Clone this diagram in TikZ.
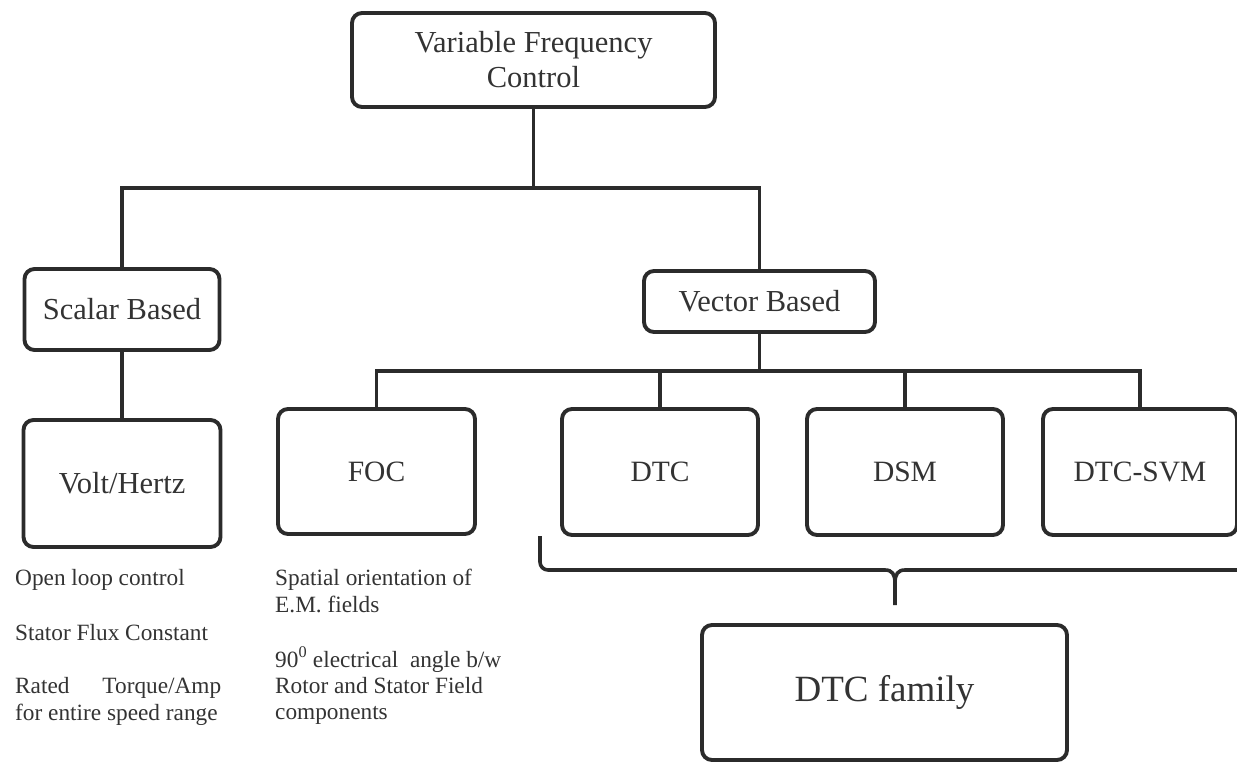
\documentclass[tikz,border=0pt]{standalone}
\usepackage{fontspec}
\setmainfont{Liberation Serif}
\definecolor{ink}{HTML}{2B2B2B}
\definecolor{txt}{HTML}{333333}
\tikzset{
  boxp/.style={draw=ink, line width=3.9pt, rounded corners=10pt, fill=white,
    text=txt, align=center, inner sep=0pt, font=\fontsize{30.5}{35}\selectfont},
  boxt/.style={boxp, font=\fontsize{29.5}{35}\selectfont},
  wire/.style={draw=ink, line width=3.9pt},
  note/.style={text=txt, anchor=base west, inner sep=0pt, font=\fontsize{23.3}{27}\selectfont}
}
\begin{document}
\begin{tikzpicture}[x=1pt,y=-1pt]
\useasboundingbox[fill=white] (0,0) rectangle (1237,762);
% boxes
\node[boxp, minimum width=363pt, minimum height=94pt] (vfc) at (533.5,60) {Variable Frequency\\Control};
\node[boxp, minimum width=195pt, minimum height=81pt] (scalar) at (122,309.5) {Scalar Based};
\node[boxp, minimum width=197pt, minimum height=127pt] (volt) at (122,483.5) {\raisebox{-2pt}{Volt/Hertz}};
\node[boxp, minimum width=231pt, minimum height=61pt] (vector) at (759.5,301.5) {Vector Based};
\node[boxt, minimum width=197pt, minimum height=125pt] (foc) at (376.5,471.5) {FOC};
\node[boxt, minimum width=196pt, minimum height=126pt] (dtc) at (660,472) {DTC};
\node[boxt, minimum width=196pt, minimum height=126pt] (dsm) at (905,472) {DSM};
\node[boxt, minimum width=194pt, minimum height=126pt] (svm) at (1140,472) {DTC-SVM};
\node[boxp, minimum width=365pt, minimum height=135pt, font=\fontsize{37}{40}\selectfont] (fam) at (884.5,692.5) {\raisebox{-5pt}{DTC family}};
% buses
\coordinate (busT) at (0,188);
\coordinate (busV) at (0,371);
\draw[wire] (vfc.south) -- (vfc.south |- busT);
\draw[wire] (scalar.north) -- (scalar.north |- busT) -- (vector.north |- busT) -- (vector.north);
\draw[wire] (scalar.south) -- (volt.north);
\draw[wire] (vector.south) -- (vector.south |- busV);
\draw[wire] (foc.north) -- (foc.north |- busV) -- (svm.north |- busV) -- (svm.north);
\draw[wire] (dtc.north) -- (dtc.north |- busV);
\draw[wire] (dsm.north) -- (dsm.north |- busV);
% brace
\coordinate (brL) at (540,536);
\coordinate (brT) at (895,605);
\coordinate (brR) at (1250,570);
\draw[wire, line width=3.6pt, rounded corners=8pt] (brL) -- (540,570) -- (885,570);
\draw[wire, line width=3.6pt] (885,570) .. controls (892,570) and (895,574) .. (895,583) -- (brT);
\draw[wire, line width=3.6pt] (895,583) .. controls (895,574) and (898,570) .. (905,570) -- (brR);
% notes
\node[note] (n1) at (15,585) {Open loop control};
\node[note] (n2) at (15,640) {Stator Flux Constant};
\node[note] (n3) at (15,693) {\makebox[206pt][s]{Rated\hfill Torque/Amp}};
\node[note] (n4) at (15,720) {for entire speed range};
\node[note] (f1) at (275,585) {Spatial orientation of};
\node[note] (f2) at (275,612) {E.M. fields};
\node[note] (f3) at (275,667) {90\textsuperscript{0} electrical\ \ angle b/w};
\node[note] (f4) at (275,693) {Rotor and Stator Field};
\node[note] (f5) at (275,719) {components};
\end{tikzpicture}
\end{document}
